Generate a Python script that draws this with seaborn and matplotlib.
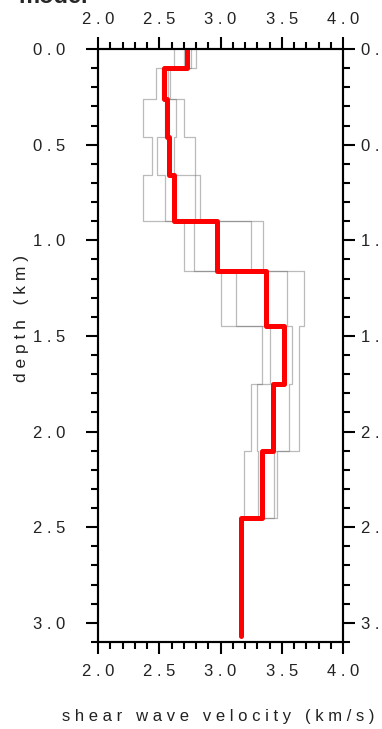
import numpy as np
import pandas as pd
import matplotlib
matplotlib.use('Agg')
import matplotlib.pyplot as plt
import seaborn as sns
from matplotlib.ticker import MultipleLocator, FixedLocator, FixedFormatter

# layer boundaries (km) -- last value is where the profile stops
depth_bounds = [0.0, 0.10, 0.26, 0.46, 0.66, 0.90, 1.16, 1.45, 1.75, 2.10, 2.45, 3.07]

# best model (red), one velocity per layer (km/s)
best_vs = [2.73, 2.54, 2.56, 2.58, 2.62, 2.97, 3.37, 3.52, 3.43, 3.34, 3.17]

# ensemble of accepted models (grey), one velocity per layer
model_a = [2.62, 2.47, 2.37, 2.44, 2.37, 2.70, 3.00, 3.34, 3.25, 3.19, 3.17]
model_b = [2.70, 2.52, 2.55, 2.48, 2.55, 2.78, 3.13, 3.40, 3.30, 3.31, 3.17]
model_c = [2.76, 2.57, 2.64, 2.62, 2.79, 3.25, 3.54, 3.58, 3.56, 3.44, 3.17]
model_d = [2.80, 2.59, 2.70, 2.79, 2.83, 3.35, 3.68, 3.64, 3.64, 3.46, 3.17]

vel_ticks = [2.0, 2.5, 3.0, 3.5, 4.0]
depth_ticks = [0.0, 0.5, 1.0, 1.5, 2.0, 2.5, 3.0]


def spaced(s):
    return ' '.join(s)


def step_profile(vs, name):
    # turn layer velocities into the vertices of a step line
    rows = []
    for i, v in enumerate(vs):
        rows.append((name, v, depth_bounds[i]))
        rows.append((name, v, depth_bounds[i + 1]))
    return pd.DataFrame(rows, columns=['model', 'vs', 'depth'])


ens = pd.concat([step_profile(m, n) for m, n in
                 zip([model_a, model_b, model_c, model_d], ['a', 'b', 'c', 'd'])],
                ignore_index=True)
best = step_profile(best_vs, 'best')

sns.set_theme(style='white')
plt.rcParams['font.family'] = ['Liberation Sans Narrow', 'Liberation Sans', 'DejaVu Sans']

fig = plt.figure(figsize=(3.82, 7.29), dpi=100)
ax = fig.add_axes([98 / 382, 1 - 642 / 729, 245 / 382, 593 / 729])

sns.lineplot(data=ens, x='vs', y='depth', units='model', estimator=None, sort=False,
             color='#6a6a6a', lw=0.9, alpha=0.45, ax=ax, zorder=2)
sns.lineplot(data=best, x='vs', y='depth', estimator=None, sort=False,
             color='#ff0000', lw=3.6, ax=ax, zorder=3)

ax.set_xlim(2.0, 4.0)
ax.set_ylim(3.1, 0.0)
ax.set_xlabel('')
ax.set_ylabel('')

for sp in ax.spines.values():
    sp.set_visible(True)
    sp.set_color('black')
    sp.set_linewidth(1.5)

ax.xaxis.set_major_locator(FixedLocator(vel_ticks))
ax.xaxis.set_major_formatter(FixedFormatter([spaced(f'{v:.1f}') for v in vel_ticks]))
ax.xaxis.set_minor_locator(MultipleLocator(0.1))
ax.yaxis.set_major_locator(FixedLocator(depth_ticks))
ax.yaxis.set_major_formatter(FixedFormatter([spaced(f'{d:.1f}') for d in depth_ticks]))
ax.yaxis.set_minor_locator(MultipleLocator(0.1))

ax.tick_params(which='both', direction='out', color='black', width=1.5,
               top=True, bottom=True, left=True, right=False,
               labeltop=True, labelbottom=True, labelleft=True, labelright=False,
               labelsize=12, labelcolor='#222222')
ax.tick_params(which='major', length=8.6)
ax.tick_params(which='minor', length=5)
ax.tick_params(axis='x', which='major', pad=7)
ax.tick_params(axis='y', which='major', pad=15)

# right-hand depth axis (labels run off the edge of the page, as in the original)
ax2 = ax.twinx()
ax2.set_ylim(3.1, 0.0)
ax2.yaxis.set_major_locator(FixedLocator(depth_ticks))
ax2.yaxis.set_major_formatter(FixedFormatter([spaced(f'{d:.1f}') for d in depth_ticks]))
ax2.yaxis.set_minor_locator(MultipleLocator(0.1))
ax2.tick_params(which='both', direction='out', color='black', width=1.5,
                labelsize=12, labelcolor='#222222')
ax2.tick_params(which='major', length=8.6, pad=4)
ax2.tick_params(which='minor', length=5)
ax2.grid(False)
for sp in ax2.spines.values():
    sp.set_linewidth(1.5)
    sp.set_color('black')

fig.text(218 / 382, 1 - 716 / 729, spaced('shear wave velocity (km/s)'),
         ha='center', va='center', fontsize=12, color='#222222')
fig.text(22 / 382, 1 - 318 / 729, spaced('depth (km)'),
         ha='center', va='center', rotation=90, fontsize=12.5, color='#222222')
fig.text(18 / 382, 1 - 3 / 729, 'model', ha='left', va='baseline',
         fontsize=17, fontweight='bold', family=['Liberation Sans', 'DejaVu Sans'])

fig.savefig('out.png', dpi=100)
